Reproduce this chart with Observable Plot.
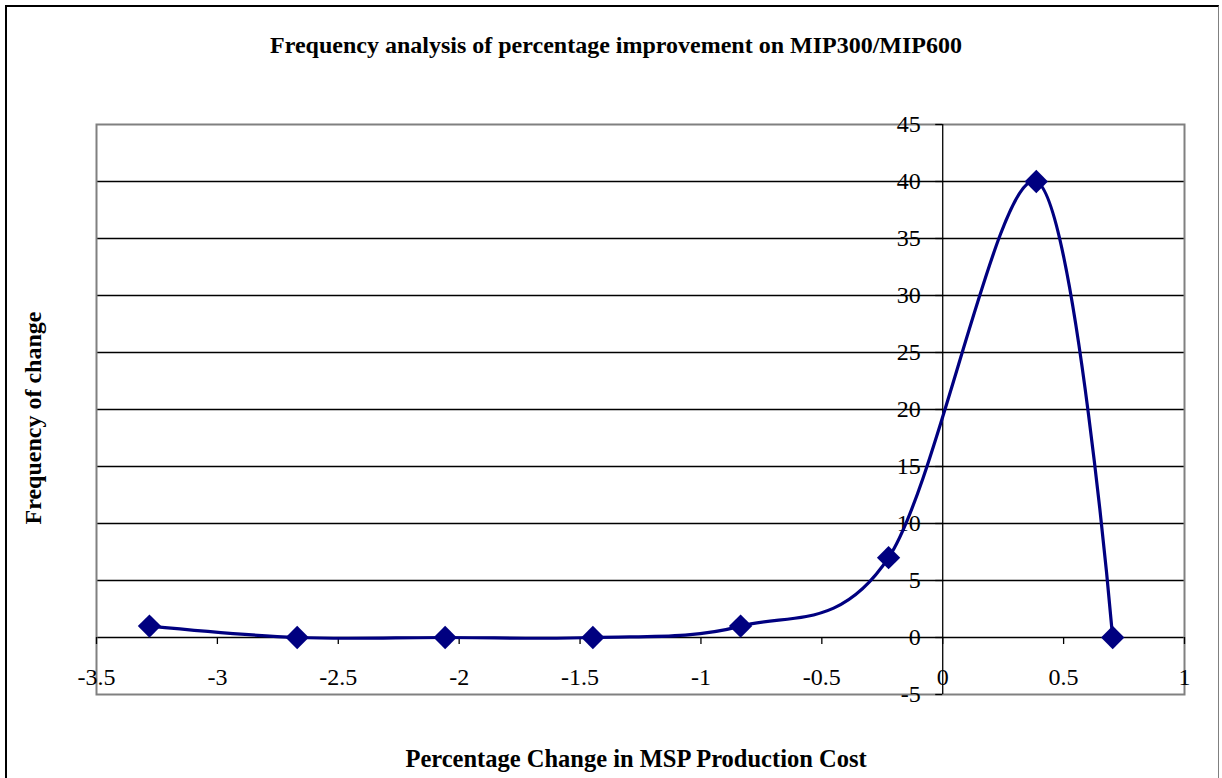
<!DOCTYPE html>
<html>
<head>
<meta charset="utf-8">
<script src="https://cdn.jsdelivr.net/npm/d3@7"></script>
<script src="https://cdn.jsdelivr.net/npm/@observablehq/plot@0.6"></script>
<style>
  body { margin: 0; background: #fff; overflow: hidden; }
  #wrap { position: relative; width: 1222px; height: 778px; font-family: "Liberation Serif", "Times New Roman", serif; color: #000; }
  #border { position: absolute; left: 5px; top: 5px; width: 1214px; height: 820px; border-top: 2px solid #000; border-left: 2px solid #000; border-right: 1px solid #808080; box-sizing: border-box; }
  #chart { position: absolute; left: 0; top: 0; }
  .t { position: absolute; font-weight: bold; white-space: nowrap; transform: translate(-50%, -50%); }
</style>
</head>
<body>
<div id="wrap">
  <div id="border"></div>
  <div id="chart"></div>
  <div class="t" id="title" style="left:616px; top:45px; font-size:24px;"></div>
  <div class="t" id="ylabel" style="left:33px; top:418px; font-size:24px; transform: translate(-50%, -50%) rotate(-90deg);"></div>
  <div class="t" id="xlabel" style="left:636px; top:759px; font-size:24.5px;"></div>
</div>
<script>
// ---- data ----
const titleText = "Frequency analysis of percentage improvement on MIP300/MIP600";
const xLabelText = "Percentage Change in MSP Production Cost";
const yLabelText = "Frequency of change";

const changeValues = [-3.281, -2.670, -2.058, -1.447, -0.836, -0.224, 0.387, 0.703];
const frequencies  = [1, 0, 0, 0, 1, 7, 40, 0];

const xTicks = [-3.5, -3, -2.5, -2, -1.5, -1, -0.5, 0, 0.5, 1];
const yTicks = [-5, 0, 5, 10, 15, 20, 25, 30, 35, 40, 45];
const yGrid  = [0, 5, 10, 15, 20, 25, 30, 35, 40];

// ---- build ----
document.getElementById("title").textContent = titleText;
document.getElementById("xlabel").textContent = xLabelText;
document.getElementById("ylabel").textContent = yLabelText;

const data = changeValues.map((x, i) => ({x, y: frequencies[i]}));

const W = 1222, H = 778;
const mL = 96, mR = 38, mT = 124, mB = 84;
const xDomain = [-3.5, 1], yDomain = [-5, 45];
const tickPx = 7;
const xPerPx = (xDomain[1] - xDomain[0]) / (W - mL - mR);
const yPerPx = (yDomain[1] - yDomain[0]) / (H - mT - mB);

const chart = Plot.plot({
  width: W,
  height: H,
  marginLeft: mL,
  marginRight: mR,
  marginTop: mT,
  marginBottom: mB,
  style: { fontFamily: "Liberation Serif, Times New Roman, serif", color: "#000", background: "transparent" },
  x: { domain: xDomain, axis: null },
  y: { domain: yDomain, axis: null },
  marks: [
    Plot.ruleY(yGrid, { stroke: "#000", strokeWidth: 1.3 }),
    Plot.frame({ stroke: "#808080", strokeWidth: 2 }),
    Plot.ruleX([0], { stroke: "#000", strokeWidth: 1.3 }),
    Plot.ruleX(xTicks, { x: d => d, y1: 0, y2: -tickPx * yPerPx, stroke: "#000", strokeWidth: 1.3 }),
    Plot.ruleY(yTicks, { y: d => d, x1: 0, x2: -tickPx * xPerPx, stroke: "#000", strokeWidth: 1.3 }),
    Plot.text(xTicks, { x: d => d, y: 0, dy: 40, text: d => String(d), fontSize: 24, fill: "#000" }),
    Plot.text(yTicks, { x: 0, y: d => d, dx: -22, textAnchor: "end", text: d => String(d), fontSize: 24, fill: "#000" }),
    Plot.line(data, { x: "x", y: "y", curve: "cardinal", tension: 0, stroke: "#000080", strokeWidth: 3.2 }),
    Plot.dot(data, { x: "x", y: "y", symbol: "diamond2", r: 10.5, fill: "#000080", stroke: "none" })
  ]
});
document.getElementById("chart").appendChild(chart);
</script>
</body>
</html>
